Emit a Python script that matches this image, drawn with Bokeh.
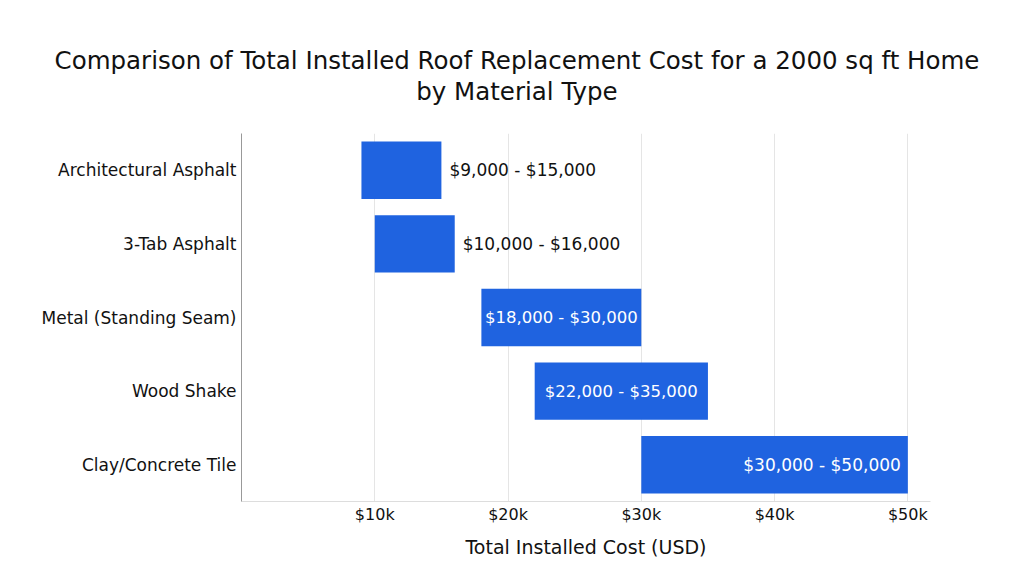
from bokeh.plotting import figure
from bokeh.models import ColumnDataSource, FactorRange, Range1d, FixedTicker, Div
from bokeh.layouts import column
from bokeh.embed import file_html
from bokeh.resources import INLINE

materials = ["Architectural Asphalt", "3-Tab Asphalt", "Metal (Standing Seam)", "Wood Shake", "Clay/Concrete Tile"]
low_cost = [9000, 10000, 18000, 22000, 30000]
high_cost = [15000, 16000, 30000, 35000, 50000]
label_pos = ["outside", "outside", "center", "center", "end"]
tick_values = [10000, 20000, 30000, 40000, 50000]
tick_labels = ["$10k", "$20k", "$30k", "$40k", "$50k"]
title_lines = ["Comparison of Total Installed Roof Replacement Cost for a 2000 sq ft Home", "by Material Type"]

FONT = "DejaVu Sans"
BAR = "#1f63e0"

labels = [f"${a:,} - ${b:,}" for a, b in zip(low_cost, high_cost)]

title_div = Div(text="<br>".join(title_lines), width=1024, height=110,
                styles={"text-align": "center", "font-family": FONT, "font-size": "24.5px",
                        "line-height": "31px", "color": "#111111", "white-space": "nowrap",
                        "padding-top": "40px", "box-sizing": "border-box", "background": "white"})

p = figure(width=1024, height=462, output_backend="svg", toolbar_location=None,
           y_range=FactorRange(factors=list(reversed(materials)), range_padding=0),
           x_range=Range1d(0, 51700), title=None,
           min_border_left=241, min_border_right=94, min_border_top=13, min_border_bottom=81)

src = ColumnDataSource(dict(y=materials, left=low_cost, right=high_cost))
p.hbar(y="y", left="left", right="right", height=0.78, source=src, fill_color=BAR, line_color=None)

out_src = ColumnDataSource(dict(y=[m for m, k in zip(materials, label_pos) if k == "outside"],
                                x=[h for h, k in zip(high_cost, label_pos) if k == "outside"],
                                t=[l for l, k in zip(labels, label_pos) if k == "outside"]))
p.text(x="x", y="y", text="t", source=out_src, x_offset=8, text_align="left", text_baseline="middle",
       text_font={"value": FONT}, text_font_size="17px", text_color="#111111")

cen_src = ColumnDataSource(dict(y=[m for m, k in zip(materials, label_pos) if k == "center"],
                                x=[(a + b) / 2 for a, b, k in zip(low_cost, high_cost, label_pos) if k == "center"],
                                t=[l for l, k in zip(labels, label_pos) if k == "center"]))
p.text(x="x", y="y", text="t", source=cen_src, text_align="center", text_baseline="middle",
       text_font={"value": FONT}, text_font_size="16.5px", text_color="white")

end_src = ColumnDataSource(dict(y=[m for m, k in zip(materials, label_pos) if k == "end"],
                                x=[h for h, k in zip(high_cost, label_pos) if k == "end"],
                                t=[l for l, k in zip(labels, label_pos) if k == "end"]))
p.text(x="x", y="y", text="t", source=end_src, x_offset=-7, text_align="right", text_baseline="middle",
       text_font={"value": FONT}, text_font_size="17px", text_color="white")

p.xaxis.ticker = FixedTicker(ticks=tick_values)
p.xaxis.major_label_overrides = {v: l for v, l in zip(tick_values, tick_labels)}
p.xaxis.axis_label = "Total Installed Cost (USD)"
p.xaxis.axis_label_text_font = FONT
p.xaxis.axis_label_text_font_size = "19px"
p.xaxis.axis_label_text_font_style = "normal"
p.xaxis.axis_label_text_color = "#111111"
p.xaxis.axis_label_standoff = 9
p.xaxis.major_label_text_font = FONT
p.xaxis.major_label_text_font_size = "16px"
p.xaxis.major_label_text_color = "#111111"
p.xaxis.major_tick_line_color = None
p.xaxis.major_tick_out = 0
p.xaxis.major_tick_in = 0
p.xaxis.minor_tick_line_color = None
p.xaxis.axis_line_color = "#dddddd"
p.xaxis.major_label_standoff = 3

p.yaxis.major_label_text_font = FONT
p.yaxis.major_label_text_font_size = "17px"
p.yaxis.major_label_text_color = "#111111"
p.yaxis.major_tick_line_color = None
p.yaxis.major_tick_out = 0
p.yaxis.major_tick_in = 0
p.yaxis.minor_tick_line_color = None
p.yaxis.axis_line_color = "#999999"
p.yaxis.major_label_standoff = 5

p.xgrid.grid_line_color = "#e5e5e5"
p.ygrid.grid_line_color = None
p.outline_line_color = None
p.background_fill_color = "white"
p.border_fill_color = "white"

layout = column(title_div, p, spacing=0)
open("out.html", "w").write(file_html(layout, INLINE))
